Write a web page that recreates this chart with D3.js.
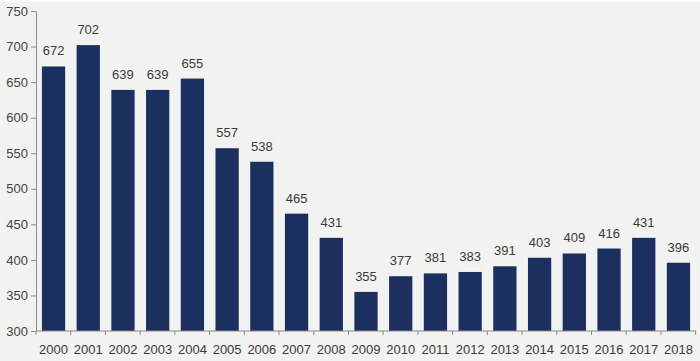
<!DOCTYPE html>
<html><head><meta charset="utf-8">
<script src="https://cdn.jsdelivr.net/npm/d3@7"></script>
<style>html,body{margin:0;padding:0;background:#f2f2f1;}svg{display:block;}</style>
</head><body>
<svg id="c" width="700" height="361"></svg>
<script>
const years = ["2000","2001","2002","2003","2004","2005","2006","2007","2008","2009","2010","2011","2012","2013","2014","2015","2016","2017","2018"];
const values = [672,702,639,639,655,557,538,465,431,355,377,381,383,391,403,409,416,431,396];
const yTicks = [300,350,400,450,500,550,600,650,700,750];

(function(){
const svg = d3.select("#c");
svg.append("rect").attr("width",700).attr("height",361).attr("fill","#f2f2f1");
svg.append("line").attr("x1",0).attr("x2",700).attr("y1",1).attr("y2",1).attr("stroke","#fbfbfb").attr("stroke-width",2);
const mL = 36, mR = 696, mT = 11, mB = 331;
const x = d3.scaleBand().domain(years).range([mL,mR]).paddingInner(0.33).paddingOuter(0.17);
const y = d3.scaleLinear().domain([300,750]).range([mB,mT]);
const font = "'Liberation Sans', Arial, sans-serif";

svg.append("g").selectAll("rect").data(years).join("rect")
  .attr("x", d=>x(d)).attr("width", x.bandwidth())
  .attr("y", (d,i)=>y(values[i])).attr("height",(d,i)=>mB-y(values[i]))
  .attr("fill","#1b305f");

svg.append("g").selectAll("text").data(years).join("text")
  .attr("x", d=>x(d)+x.bandwidth()/2).attr("y",(d,i)=>y(values[i])-11)
  .attr("text-anchor","middle").attr("font-family",font).attr("font-size",13)
  .attr("fill","#3a3a3a").text((d,i)=>values[i]);

const yAxis = svg.append("g").attr("transform",`translate(${mL},0)`)
  .call(d3.axisLeft(y).tickValues(yTicks).tickSize(5).tickSizeOuter(0));
yAxis.select(".domain").attr("stroke","#8a8a8a");
yAxis.selectAll(".tick line").attr("stroke","#8a8a8a");
yAxis.selectAll("text").attr("font-family",font).attr("font-size",13).attr("fill","#444").attr("x",-8);

const xg = svg.append("g").attr("transform",`translate(0,${mB})`);
xg.append("line").attr("x1",mL).attr("x2",mR).attr("stroke","#8a8a8a");
const step = x.step();
const bounds = d3.range(years.length+1).map(i=>mL + i*step);
xg.selectAll("line.t").data(bounds).join("line").attr("class","t")
  .attr("x1",d=>d).attr("x2",d=>d).attr("y1",0).attr("y2",4).attr("stroke","#8a8a8a");
xg.selectAll("text").data(years).join("text")
  .attr("x",d=>x(d)+x.bandwidth()/2).attr("y",23)
  .attr("text-anchor","middle").attr("font-family",font).attr("font-size",13)
  .attr("fill","#3a3a3a").text(d=>d);
})();
</script>
</body></html>
